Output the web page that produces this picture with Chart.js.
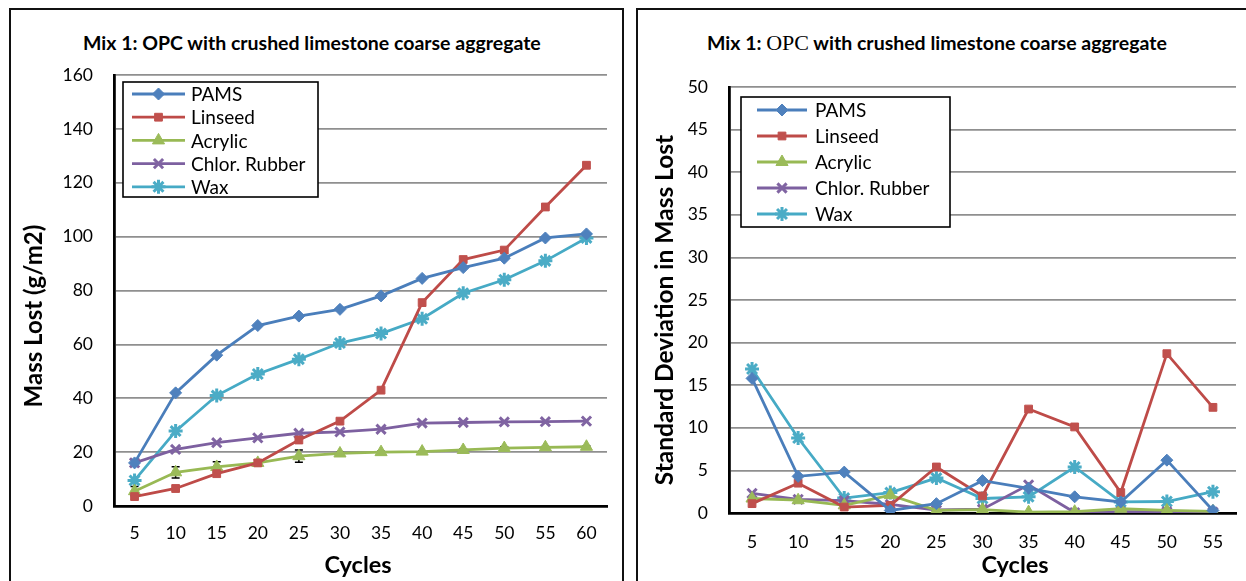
<!DOCTYPE html>
<html>
<head>
<meta charset="utf-8">
<script src="https://cdn.jsdelivr.net/npm/chart.js@4.4.0/dist/chart.umd.min.js"></script>
<style>
  body { margin: 0; background: #fff; width: 1246px; height: 581px; overflow: hidden; position: relative; font-family: Lato, 'Open Sans', sans-serif; }
  .panel { position: absolute; border: 2px solid #111; background: #fff; }
  #panelL { left: 9px; top: 8px; width: 611px; height: 600px; }
  #panelR { left: 636px; top: 8px; width: 640px; height: 600px; }
  .title { position: absolute; font-weight: bold; font-size: 19.5px; color: #000; white-space: nowrap; line-height: 24px; }
  #titleL { left: 83px; top: 31px; }
  #titleR { left: 707px; top: 31px; }
  .serif { font-family: 'Liberation Serif', 'DejaVu Serif', serif; font-weight: normal; font-size: 22px; }
  canvas { position: absolute; }
  #chartL { left: 11px; top: 10px; }
  #chartR { left: 639px; top: 10px; }
</style>
</head>
<body>
<div class="panel" id="panelL"></div>
<div class="panel" id="panelR"></div>
<div class="title" id="titleL">Mix 1: OPC with crushed limestone coarse aggregate</div>
<div class="title" id="titleR">Mix 1: <span class="serif">OPC</span> with crushed limestone coarse aggregate</div>
<canvas id="chartL" width="610" height="571"></canvas>
<canvas id="chartR" width="607" height="571"></canvas>
<script>
// Mass lost vs cycles (left) and its standard deviation (right)

const seriesNames = ['PAMS', 'Linseed', 'Acrylic', 'Chlor. Rubber', 'Wax'];
const cyclesL = ['5', '10', '15', '20', '25', '30', '35', '40', '45', '50', '55', '60'];
const cyclesR = ['5', '10', '15', '20', '25', '30', '35', '40', '45', '50', '55'];

// mass lost (g/m2)
const pamsMass    = [16, 42, 56, 67, 70.5, 73, 78, 84.5, 88.5, 92, 99.5, 101];
const linseedMass = [3.5, 6.5, 12, 16, 24.5, 31.5, 43, 75.5, 91.5, 95, 111, 126.5];
const acrylicMass = [5.5, 12.5, 14.5, 16, 18.5, 19.5, 20, 20.2, 20.8, 21.5, 21.8, 22];
const rubberMass  = [16, 21, 23.5, 25.3, 27, 27.5, 28.5, 30.8, 31, 31.2, 31.3, 31.5];
const waxMass     = [9.5, 27.8, 41, 49, 54.5, 60.5, 64, 69.5, 79, 84, 91, 99.5];
const acrylicErr  = [1.7, 2.1, 1.9, 1.2, 2.3, 0.4, 0.3, 0.3, 0.4, 0.5, 0.3, 0.3];

// standard deviation in mass lost
const pamsSd    = [15.8, 4.3, 4.8, 0.3, 1.1, 3.8, 2.9, 1.9, 1.3, 6.2, 0.3];
const linseedSd = [1.1, 3.5, 0.7, 0.9, 5.4, 2.0, 12.2, 10.1, 2.4, 18.7, 12.4];
const acrylicSd = [1.7, 1.5, 0.9, 2.1, 0.3, 0.4, 0.1, 0.15, 0.5, 0.3, 0.2];
const rubberSd  = [2.3, 1.6, 1.45, 1.0, 0.35, 0.45, 3.3, 0.05, 0.15, 0.15, 0.1];
const waxSd     = [16.9, 8.8, 1.75, 2.4, 4.1, 1.7, 1.9, 5.4, 1.3, 1.35, 2.5];

const yTicksL = [0, 20, 40, 60, 80, 100, 120, 140, 160];
const yTicksR = [0, 5, 10, 15, 20, 25, 30, 35, 40, 45, 50];

const styles = [
    { line: '#4A7EBB', fill: '#4F81BD', point: 'rectRot', radius: 6, bw: 1 },
    { line: '#BE4B48', fill: '#C0504D', point: 'rect', radius: 5.5, bw: 1 },
    { line: '#98B954', fill: '#9BBB59', point: 'triangle', radius: 7, bw: 1 },
    { line: '#7D60A0', fill: '#8064A2', point: 'crossRot', radius: 6.5, bw: 3 },
    { line: '#46AAC5', fill: '#4BACC6', point: 'star', radius: 7, bw: 3 }
];

const FONT = "Lato, 'Open Sans', sans-serif";

function makeDatasets(values) {
    return values.map((vals, i) => {
        const s = styles[i];
        return {
            label: seriesNames[i],
            data: vals,
            borderColor: s.line,
            backgroundColor: s.fill,
            pointBackgroundColor: s.fill,
            pointBorderColor: s.fill,
            pointStyle: s.point,
            pointRadius: s.radius,
            pointBorderWidth: s.bw,
            borderWidth: 2.8,
            tension: 0,
            fill: false
        };
    });
}

// Excel-like boxed legend drawn inside the plot area
const boxLegend = {
    id: 'boxLegend',
    afterDraw(chart, args, opts) {
        const ctx = chart.ctx;
        const a = chart.chartArea;
        const x0 = a.left + opts.dx, y0 = a.top + opts.dy;
        ctx.save();
        ctx.fillStyle = '#fff';
        ctx.fillRect(x0, y0, opts.w, opts.h);
        ctx.strokeStyle = '#000';
        ctx.lineWidth = 1.6;
        ctx.strokeRect(x0, y0, opts.w, opts.h);
        chart.data.datasets.forEach((ds, i) => {
            const y = y0 + opts.first + i * opts.row;
            ctx.strokeStyle = ds.borderColor;
            ctx.lineWidth = 2.8;
            ctx.beginPath();
            ctx.moveTo(x0 + opts.lineFrom, y);
            ctx.lineTo(x0 + opts.lineTo, y);
            ctx.stroke();
            ctx.fillStyle = ds.pointBackgroundColor;
            ctx.strokeStyle = ds.pointBorderColor;
            ctx.lineWidth = ds.pointBorderWidth;
            Chart.helpers.drawPoint(ctx, { pointStyle: ds.pointStyle, radius: ds.pointRadius, rotation: 0, borderWidth: ds.pointBorderWidth },
                x0 + (opts.lineFrom + opts.lineTo) / 2, y);
            ctx.fillStyle = '#000';
            ctx.font = opts.fontSize + 'px ' + FONT;
            ctx.textBaseline = 'middle';
            ctx.fillText(ds.label, x0 + opts.text, y + 1);
        });
        ctx.restore();
    }
};

// axis titles placed relative to the plot area, like the Excel original
const axisTitles = {
    id: 'axisTitles',
    afterDraw(chart, args, opts) {
        const ctx = chart.ctx;
        const a = chart.chartArea;
        ctx.save();
        ctx.fillStyle = '#000';
        ctx.textAlign = 'center';
        ctx.textBaseline = 'middle';
        ctx.font = 'bold ' + opts.xSize + 'px ' + FONT;
        ctx.fillText(opts.xText, a.left + opts.xDx, a.bottom + opts.xDy);
        ctx.translate(a.left - opts.yDx, a.top + opts.yDy);
        ctx.rotate(-Math.PI / 2);
        ctx.font = 'bold ' + opts.ySize + 'px ' + FONT;
        ctx.fillText(opts.yText, 0, 0);
        ctx.restore();
    }
};

// error bars for the acrylic series
const errorBars = {
    id: 'errorBars',
    beforeDatasetsDraw(chart, args, opts) {
        if (!opts.values) return;
        const ctx = chart.ctx;
        const meta = chart.getDatasetMeta(opts.index);
        const ys = chart.scales.y;
        const vals = chart.data.datasets[opts.index].data;
        ctx.save();
        ctx.strokeStyle = '#000';
        ctx.lineWidth = 1.5;
        meta.data.forEach((pt, j) => {
            const hi = ys.getPixelForValue(vals[j] + opts.values[j]);
            const lo = ys.getPixelForValue(vals[j] - opts.values[j]);
            ctx.beginPath();
            ctx.moveTo(pt.x, lo); ctx.lineTo(pt.x, hi);
            ctx.moveTo(pt.x - 4, hi); ctx.lineTo(pt.x + 4, hi);
            ctx.moveTo(pt.x - 4, lo); ctx.lineTo(pt.x + 4, lo);
            ctx.stroke();
        });
        ctx.restore();
    }
};

function scalesFor(xHeight, yWidth, yMax, yTicks, xPad) {
    return {
        x: {
            offset: true,
            afterFit: (s) => { s.height = xHeight; },
            grid: { display: false, drawTicks: false, offset: true },
            border: { color: '#000', width: 2.8 },
            ticks: { color: '#000', padding: xPad, maxRotation: 0, font: { family: FONT, size: 17.5 } }
        },
        y: {
            min: 0, max: yMax,
            afterFit: (s) => { s.width = yWidth; },
            afterBuildTicks: (s) => { s.ticks = yTicks.map(v => ({ value: v })); },
            grid: { color: '#8f8f8f', lineWidth: 1.7, drawTicks: false },
            border: { color: '#000', width: 2.8 },
            ticks: { color: '#000', padding: 21, font: { family: FONT, size: 17.5 } }
        }
    };
}

new Chart(document.getElementById('chartL'), {
    type: 'line',
    data: {
        labels: cyclesL,
        datasets: makeDatasets([pamsMass, linseedMass, acrylicMass, rubberMass, waxMass])
    },
    plugins: [errorBars, boxLegend, axisTitles],
    options: {
        responsive: false,
        animation: false,
        layout: { padding: { top: 65, right: 14, bottom: 0, left: 0 } },
        plugins: {
            legend: { display: false },
            tooltip: { enabled: false },
            boxLegend: { dx: 9, dy: 7, w: 195, h: 115, first: 12, row: 23.2, lineFrom: 9, lineTo: 62, text: 68, fontSize: 19 },
            errorBars: { index: 2, values: acrylicErr },
            axisTitles: { xText: 'Cycles', xSize: 23.5, xDx: 244, xDy: 59, yText: 'Mass Lost (g/m2)', ySize: 24, yDx: 80, yDy: 241 }
        },
        scales: scalesFor(75, 103, 160, yTicksL, 16.5)
    }
});

new Chart(document.getElementById('chartR'), {
    type: 'line',
    data: {
        labels: cyclesR,
        datasets: makeDatasets([pamsSd, linseedSd, acrylicSd, rubberSd, waxSd])
    },
    plugins: [boxLegend, axisTitles],
    options: {
        responsive: false,
        animation: false,
        layout: { padding: { top: 77, right: 1, bottom: 0, left: 0 } },
        plugins: {
            legend: { display: false },
            tooltip: { enabled: false },
            boxLegend: { dx: 12, dy: 10, w: 209, h: 130, first: 13, row: 26, lineFrom: 16, lineTo: 66, text: 74, fontSize: 19 },
            axisTitles: { xText: 'Cycles', xSize: 23.5, xDx: 286, xDy: 52, yText: 'Standard Deviation in Mass Lost', ySize: 24.5, yDx: 64, yDy: 223 }
        },
        scales: scalesFor(68, 90, 50, yTicksR, 18.5)
    }
});
</script>
</body>
</html>
